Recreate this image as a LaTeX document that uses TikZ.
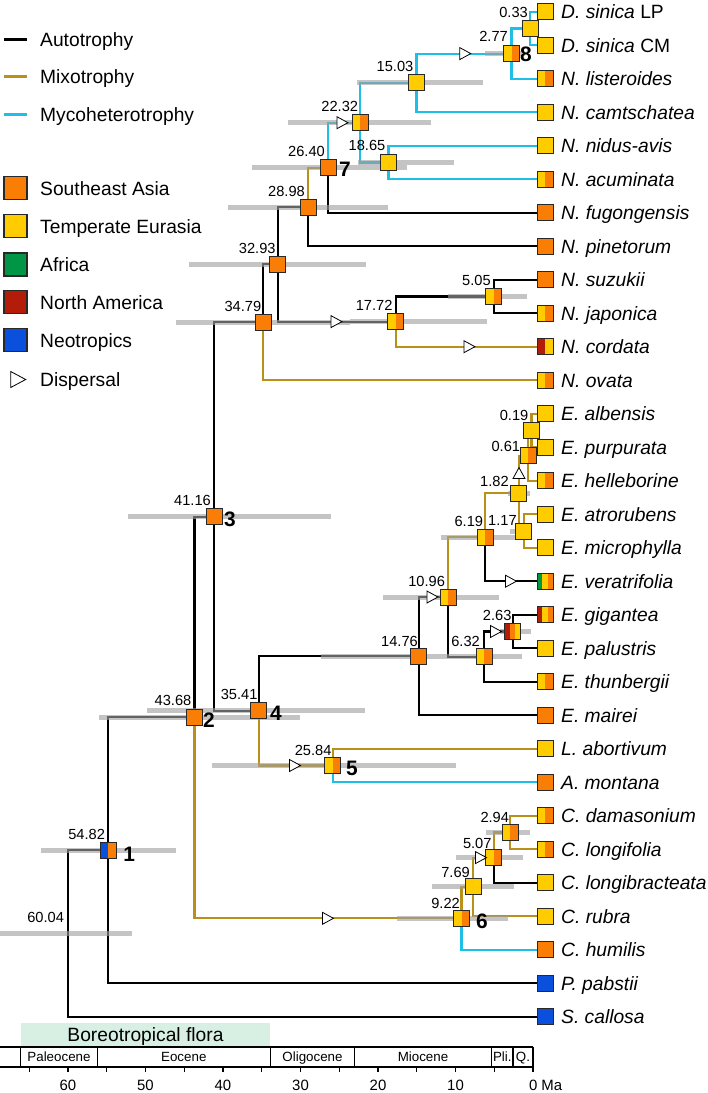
\documentclass[tikz,border=0pt]{standalone}
\usepackage{fontspec}
\setmainfont{Liberation Sans}
\usetikzlibrary{shapes.geometric,calc}
\definecolor{cOr}{RGB}{250,125,5}
\definecolor{cYe}{RGB}{255,204,0}
\definecolor{cGr}{RGB}{0,150,70}
\definecolor{cRe}{RGB}{180,28,10}
\definecolor{cBl}{RGB}{10,80,220}
\definecolor{cMix}{RGB}{185,145,25}
\definecolor{cMyc}{RGB}{30,190,230}
\definecolor{cHpd}{RGB}{160,160,160}
\definecolor{cBoreo}{RGB}{216,239,228}
\definecolor{cBorder}{RGB}{40,40,40}
\pgfdeclarelayer{bars}\pgfdeclarelayer{lines}
\pgfsetlayers{lines,bars,main}
\newcommand\fsTip{\fontsize{19.3}{23}\selectfont}
\newcommand\fsAge{\fontsize{14.7}{17}\selectfont}
\newcommand\fsNum{\fontsize{21}{24}\selectfont\bfseries}
\newcommand\fsEp{\fontsize{13.4}{16}\selectfont}
\newcommand\fsTick{\fontsize{15}{18}\selectfont}
\newcommand\agel[4]{\node[agelab] (age#1) at ($(#1.center)+(#3,#4)$) {#2};}
\newcommand\numl[4]{\node[numlab] (num#1) at ($(#1.center)+(#3,#4)$) {#2};}
\newcommand\hpdbar[3]{\draw[hpd] (#1,#3) -- (#2,#3);}
\begin{document}
\begin{tikzpicture}[x=1bp,y=-1bp,
  brA/.style={line width=2.1bp, black},
  brM/.style={line width=2.1bp, cMix},
  brY/.style={line width=2.1bp, cMyc},
  hpd/.style={line width=5bp, cHpd, opacity=0.62},
  sqbase/.style={draw=cBorder, line width=0.9bp, minimum size=16bp, inner sep=0pt, outer sep=0pt},
  sqA/.style={sqbase, fill=#1},
  sqB/.style 2 args={sqbase, path picture={
     \fill[#1] (path picture bounding box.south west) rectangle (path picture bounding box.north);
     \fill[#2] (path picture bounding box.south) rectangle (path picture bounding box.north east);}},
  sqC/.style n args={3}{sqbase, path picture={
     \fill[#1] (path picture bounding box.south west) rectangle ($(path picture bounding box.north west)!0.3333!(path picture bounding box.north east)$);
     \fill[#2] ($(path picture bounding box.south west)!0.3333!(path picture bounding box.south east)$) rectangle ($(path picture bounding box.north west)!0.6667!(path picture bounding box.north east)$);
     \fill[#3] ($(path picture bounding box.south west)!0.6667!(path picture bounding box.south east)$) rectangle (path picture bounding box.north east);}},
  disp/.style={isosceles triangle, isosceles triangle stretches, draw=black, fill=white, line width=0.8bp, minimum width=12bp, minimum height=11bp, inner sep=0pt},
  agelab/.style={anchor=base east, inner sep=0pt, font=\fsAge},
  numlab/.style={anchor=base west, inner sep=0pt, font=\fsNum},
  tiplab/.style={anchor=base west, inner sep=0pt, font=\fsTip\itshape},
  leglab/.style={anchor=base west, inner sep=0pt, font=\fsTip},
  axl/.style={line width=1.1bp, black}
]
\useasboundingbox (0,0) rectangle (708,1093);

% ---------- internal nodes ----------
\coordinate (root) at (67.7,933.5);
\node[sqB={cBl}{cOr}] (n1) at (108.1,850.3) {};
\node[sqA=cOr] (n2) at (194.5,717.4) {};
\node[sqA=cOr] (n3) at (214.0,516.6) {};
\node[sqA=cOr] (nJ) at (263.4,322.3) {};
\node[sqA=cOr] (nG) at (277.8,264.3) {};
\node[sqA=cOr] (nF) at (308.4,207.0) {};
\node[sqA=cOr] (n7) at (328.4,167.7) {};
\node[sqB={cYe}{cOr}] (nE) at (360.0,122.7) {};
\node[sqA=cYe] (nD) at (388.5,162.5) {};
\node[sqA=cYe] (nC) at (416.5,82.9) {};
\node[sqB={cYe}{cOr}] (n8) at (511.5,53.6) {};
\node[sqA=cYe] (nA) at (530.4,28.5) {};
\node[sqB={cYe}{cOr}] (nI) at (395.7,321.6) {};
\node[sqB={cYe}{cOr}] (nH) at (493.9,296.5) {};
\node[sqA=cOr] (n4) at (258.6,710.8) {};
\node[sqB={cYe}{cOr}] (n5) at (332.7,765.5) {};
\node[sqA=cOr] (nS) at (418.6,656.1) {};
\node[sqB={cYe}{cOr}] (nR) at (448.1,597.0) {};
\node[sqB={cYe}{cOr}] (nO) at (485.0,537.3) {};
\node[sqA=cYe] (nN) at (518.9,493.3) {};
\node[sqA=cYe] (nM) at (523.9,531.0) {};
\node[sqB={cYe}{cOr}] (nL) at (528.3,455.6) {};
\node[sqA=cYe] (nK) at (531.5,430.5) {};
\node[sqB={cYe}{cOr}] (nQ) at (484.0,656.6) {};
\node[sqC={cRe}{cOr}{cYe}] (nP) at (512.6,631.5) {};
\node[sqB={cYe}{cOr}] (n6) at (461.5,918.3) {};
\node[sqA=cYe] (nV) at (473.4,886.9) {};
\node[sqB={cYe}{cOr}] (nU) at (493.7,857.6) {};
\node[sqB={cYe}{cOr}] (nT) at (510.2,832.5) {};

% ---------- tips ----------
\node[sqA=cYe] (t0) at (545,11.7) {};
\node[sqA=cYe] (t1) at (545,45.2) {};
\node[sqB={cYe}{cOr}] (t2) at (545,78.7) {};
\node[sqA=cYe] (t3) at (545,112.2) {};
\node[sqA=cYe] (t4) at (545,145.7) {};
\node[sqB={cYe}{cOr}] (t5) at (545,179.2) {};
\node[sqA=cOr] (t6) at (545,212.7) {};
\node[sqA=cOr] (t7) at (545,246.2) {};
\node[sqA=cOr] (t8) at (545,279.7) {};
\node[sqB={cYe}{cOr}] (t9) at (545,313.2) {};
\node[sqB={cRe}{cYe}] (t10) at (545,346.7) {};
\node[sqB={cYe}{cOr}] (t11) at (545,380.2) {};
\node[sqA=cYe] (t12) at (545,413.7) {};
\node[sqA=cYe] (t13) at (545,447.2) {};
\node[sqB={cYe}{cOr}] (t14) at (545,480.7) {};
\node[sqA=cYe] (t15) at (545,514.2) {};
\node[sqA=cYe] (t16) at (545,547.7) {};
\node[sqC={cGr}{cYe}{cOr}] (t17) at (545,581.2) {};
\node[sqC={cRe}{cYe}{cOr}] (t18) at (545,614.7) {};
\node[sqA=cYe] (t19) at (545,648.2) {};
\node[sqB={cYe}{cOr}] (t20) at (545,681.7) {};
\node[sqA=cOr] (t21) at (545,715.2) {};
\node[sqA=cYe] (t22) at (545,748.7) {};
\node[sqA=cOr] (t23) at (545,782.2) {};
\node[sqB={cYe}{cOr}] (t24) at (545,815.7) {};
\node[sqB={cYe}{cOr}] (t25) at (545,849.2) {};
\node[sqA=cYe] (t26) at (545,882.7) {};
\node[sqA=cYe] (t27) at (545,916.2) {};
\node[sqA=cOr] (t28) at (545,949.7) {};
\node[sqA=cBl] (t29) at (545,983.2) {};
\node[sqA=cBl] (t30) at (545,1016.7) {};

% tip labels
\node[tiplab] (l0) at (561,18.7) {D. sinica \upshape LP};
\node[tiplab] (l1) at (561,52.2) {D. sinica \upshape CM};
\node[tiplab] (l2) at (561,85.7) {N. listeroides};
\node[tiplab] (l3) at (561,119.2) {N. camtschatea};
\node[tiplab] (l4) at (561,152.7) {N. nidus-avis};
\node[tiplab] (l5) at (561,186.2) {N. acuminata};
\node[tiplab] (l6) at (561,219.7) {N. fugongensis};
\node[tiplab] (l7) at (561,253.2) {N. pinetorum};
\node[tiplab] (l8) at (561,286.7) {N. suzukii};
\node[tiplab] (l9) at (561,320.2) {N. japonica};
\node[tiplab] (l10) at (561,353.7) {N. cordata};
\node[tiplab] (l11) at (561,387.2) {N. ovata};
\node[tiplab] (l12) at (561,420.7) {E. albensis};
\node[tiplab] (l13) at (561,454.2) {E. purpurata};
\node[tiplab] (l14) at (561,487.7) {E. helleborine};
\node[tiplab] (l15) at (561,521.2) {E. atrorubens};
\node[tiplab] (l16) at (561,554.7) {E. microphylla};
\node[tiplab] (l17) at (561,588.2) {E. veratrifolia};
\node[tiplab] (l18) at (561,621.7) {E. gigantea};
\node[tiplab] (l19) at (561,655.2) {E. palustris};
\node[tiplab] (l20) at (561,688.7) {E. thunbergii};
\node[tiplab] (l21) at (561,722.2) {E. mairei};
\node[tiplab] (l22) at (561,755.7) {L. abortivum};
\node[tiplab] (l23) at (561,789.2) {A. montana};
\node[tiplab] (l24) at (561,822.7) {C. damasonium};
\node[tiplab] (l25) at (561,856.2) {C. longifolia};
\node[tiplab] (l26) at (561,889.7) {C. longibracteata};
\node[tiplab] (l27) at (561,923.2) {C. rubra};
\node[tiplab] (l28) at (561,956.7) {C. humilis};
\node[tiplab] (l29) at (561,990.2) {P. pabstii};
\node[tiplab] (l30) at (561,1023.7) {S. callosa};

% ---------- dispersal marks ----------
\node[disp] (d1) at (463.3,53.6) {};
\node[disp] (d2) at (340.5,122.7) {};
\node[disp] (d3) at (334.5,321.6) {};
\node[disp] (d4) at (467.5,346.7) {};
\node[disp, shape border rotate=90] (d5) at (519.0,475) {};
\node[disp] (d6) at (509,581.2) {};
\node[disp] (d7) at (494,631.5) {};
\node[disp] (d8) at (430.5,597.0) {};
\node[disp] (d9) at (293,765.5) {};
\node[disp] (d10) at (326,918.3) {};
\node[disp] (d11) at (479,857.6) {};

% ---------- age labels ----------
\node[agelab] (ageroot) at ($(root)+(-3.5,-11)$) {60.04};
\agel{n1}{54.82}{-3}{-11}
\agel{n2}{43.68}{-3}{-12}
\agel{n3}{41.16}{-3}{-11}
\agel{nJ}{34.79}{-2}{-11}
\agel{nG}{32.93}{-2}{-11}
\agel{nF}{28.98}{-3.4}{-10.5}
\agel{n7}{26.40}{-3.4}{-11}
\agel{nE}{22.32}{-1.7}{-11.7}
\agel{nD}{18.65}{-3}{-12}
\agel{nC}{15.03}{-3}{-11}
\agel{n8}{2.77}{-3.5}{-12}
\agel{nA}{0.33}{-2.4}{-11}
\agel{nI}{17.72}{-3}{-11.5}
\agel{nH}{5.05}{-3}{-11.5}
\agel{n4}{35.41}{-1}{-11}
\agel{n5}{25.84}{-1}{-10}
\agel{nS}{14.76}{-0.6}{-10}
\agel{nR}{10.96}{-3}{-10.3}
\agel{nO}{6.19}{-1.7}{-10.6}
\agel{nN}{1.82}{-10}{-6.6}
\agel{nM}{1.17}{-7}{-6}
\agel{nL}{0.61}{-8}{-4}
\agel{nK}{0.19}{-3}{-10.5}
\agel{nQ}{6.32}{-4}{-10.6}
\agel{nP}{2.63}{-1}{-11.5}
\agel{n6}{9.22}{-1.5}{-10}
\agel{nV}{7.69}{-3.4}{-9.6}
\agel{nU}{5.07}{-2}{-9.3}
\agel{nT}{2.94}{-1}{-10}

% ---------- bold clade numbers ----------
\numl{n1}{1}{15}{11}
\numl{n2}{2}{8.5}{10.3}
\numl{n3}{3}{10}{10}
\numl{n4}{4}{11.4}{10}
\numl{n5}{5}{13.3}{9.5}
\numl{n6}{6}{14.5}{10}
\numl{n7}{7}{10.6}{8.3}
\numl{n8}{8}{8.5}{8}

% ---------- HPD bars (drawn over branches, under node squares) ----------
\begin{pgfonlayer}{bars}
\hpdbar{0}{132}{933.5}
\hpdbar{41}{176}{850.3}
\hpdbar{99}{300}{717.4}
\hpdbar{128}{331}{516.6}
\hpdbar{147}{365}{710.8}
\hpdbar{212}{456}{765.5}
\hpdbar{176}{350}{322.3}
\hpdbar{189}{366}{264.3}
\hpdbar{228}{388}{207.0}
\hpdbar{252}{407}{167.7}
\hpdbar{288}{431}{122.7}
\hpdbar{358}{454}{162.5}
\hpdbar{357}{483}{82.9}
\hpdbar{485}{525}{53.6}
\hpdbar{448}{527}{296.5}
\hpdbar{350}{487}{321.6}
\hpdbar{321}{436}{656.1}
\hpdbar{436}{522}{656.6}
\hpdbar{383}{499}{597.0}
\hpdbar{441}{516}{537.3}
\hpdbar{510}{530}{531.0}
\hpdbar{508}{530}{493.3}
\hpdbar{500}{531}{631.5}
\hpdbar{432}{514}{886.9}
\hpdbar{456}{523}{857.6}
\hpdbar{486}{530}{832.5}
\hpdbar{397}{508}{918.3}
\end{pgfonlayer}

% ---------- branches ----------
\begin{pgfonlayer}{lines}
\draw[brA] (root) |- (n1.center);
\draw[brA] (root) |- (t30.center);
\draw[brA] (n1.center) |- (n2.center);
\draw[brA] (n1.center) |- (t29.center);
\draw[brA] (n2.center) |- (n3.center);
\draw[brM] (n2.center) |- (n6.center);
\draw[brA] (n3.center) |- (nJ.center);
\draw[brA] (n3.center) |- (n4.center);
\draw[brA] (nJ.center) |- (nG.center);
\draw[brM] (nJ.center) |- (t11.center);
\draw[brA] (nG.center) |- (nF.center);
\draw[brA] (nG.center) |- (nI.center);
\draw[brM] (nF.center) |- (n7.center);
\draw[brA] (nF.center) |- (t7.center);
\draw[brY] (n7.center) |- (nE.center);
\draw[brA] (n7.center) |- (t6.center);
\draw[brY] (nE.center) |- (nC.center);
\draw[brY] (nE.center) |- (nD.center);
\draw[brY] (nC.center) |- (n8.center);
\draw[brY] (nC.center) |- (t3.center);
\draw[brY] (n8.center) |- (nA.center);
\draw[brY] (n8.center) |- (t2.center);
\draw[brY] (nA.center) |- (t0.center);
\draw[brY] (nA.center) |- (t1.center);
\draw[brY] (nD.center) |- (t4.center);
\draw[brY] (nD.center) |- (t5.center);
\draw[brA] (nI.center) |- (nH.center);
\draw[brM] (nI.center) |- (t10.center);
\draw[brA] (nH.center) |- (t8.center);
\draw[brA] (nH.center) |- (t9.center);
\draw[brA] (n4.center) |- (nS.center);
\draw[brM] (n4.center) |- (n5.center);
\draw[brM] (n5.center) |- (t22.center);
\draw[brY] (n5.center) |- (t23.center);
\draw[brA] (nS.center) |- (nR.center);
\draw[brA] (nS.center) |- (t21.center);
\draw[brM] (nR.center) |- (nO.center);
\draw[brA] (nR.center) |- (nQ.center);
\draw[brM] (nO.center) |- (nN.center);
\draw[brA] (nO.center) |- (t17.center);
\draw[brM] (nN.center) |- (nL.center);
\draw[brM] (nN.center) |- (nM.center);
\draw[brM] (nL.center) |- (nK.center);
\draw[brM] (nL.center) |- (t14.center);
\draw[brM] (nK.center) |- (t12.center);
\draw[brM] (nK.center) |- (t13.center);
\draw[brM] (nM.center) |- (t15.center);
\draw[brM] (nM.center) |- (t16.center);
\draw[brA] (nQ.center) |- (nP.center);
\draw[brA] (nQ.center) |- (t20.center);
\draw[brA] (nP.center) |- (t18.center);
\draw[brA] (nP.center) |- (t19.center);
\draw[brM] (n6.center) |- (nV.center);
\draw[brY] (n6.center) |- (t28.center);
\draw[brM] (nV.center) |- (nU.center);
\draw[brM] (nV.center) |- (t27.center);
\draw[brM] (nU.center) |- (nT.center);
\draw[brA] (nU.center) |- (t26.center);
\draw[brM] (nT.center) |- (t24.center);
\draw[brM] (nT.center) |- (t25.center);
\end{pgfonlayer}

% ---------- legend ----------
\draw[line width=3bp, black] (4,39) -- (27,39);
\draw[line width=3bp, cMix] (4,76.7) -- (27,76.7);
\draw[line width=3bp, cMyc] (4,114.3) -- (27,114.3);
\node[leglab] (legA) at (40,46) {Autotrophy};
\node[leglab] (legM) at (40,83.7) {Mixotrophy};
\node[leglab] (legY) at (40,121.3) {Mycoheterotrophy};
\node[sqA=cOr, minimum size=23bp, line width=1.1bp] (sq1) at (15.5,188) {};
\node[sqA=cYe, minimum size=23bp, line width=1.1bp] (sq2) at (15.5,226) {};
\node[sqA=cGr, minimum size=23bp, line width=1.1bp] (sq3) at (15.5,264.5) {};
\node[sqA=cRe, minimum size=23bp, line width=1.1bp] (sq4) at (15.5,302) {};
\node[sqA=cBl, minimum size=23bp, line width=1.1bp] (sq5) at (15.5,340) {};
\node[disp, minimum width=16bp, minimum height=15bp] (sq6) at (15.5,379.5) {};
\node[leglab] (leg1) at (40,195) {Southeast Asia};
\node[leglab] (leg2) at (40,233) {Temperate Eurasia};
\node[leglab] (leg3) at (40,271.5) {Africa};
\node[leglab] (leg4) at (40,309) {North America};
\node[leglab] (leg5) at (40,347) {Neotropics};
\node[leglab] (leg6) at (40,386.5) {Dispersal};

% ---------- time axis ----------
\fill[cBoreo] (20.7,1023) rectangle (270.3,1046);
\node[anchor=base, inner sep=0pt, font=\fsTip] (boreo) at (145.5,1041.5) {Boreotropical flora};
\draw[axl] (0,1047) -- (533,1047);
\draw[axl] (0,1067) -- (533,1067);
\foreach \bx in {20.7,97.3,270.3,354.8,491.7,513,533}
  \draw[axl] (\bx,1047) -- (\bx,1067);
\foreach \t in {0,5,...,65}
  \draw[axl] ({533-7.75*\t},1067) -- ({533-7.75*\t},1072);
\node[anchor=base, inner sep=0pt, font=\fsEp] (ep1) at (59,1061.7) {Paleocene};
\node[anchor=base, inner sep=0pt, font=\fsEp] (ep2) at (183.8,1061.7) {Eocene};
\node[anchor=base, inner sep=0pt, font=\fsEp] (ep3) at (312.5,1061.7) {Oligocene};
\node[anchor=base, inner sep=0pt, font=\fsEp] (ep4) at (423,1061.7) {Miocene};
\node[anchor=base, inner sep=0pt, font=\fsEp] (ep5) at (502.3,1061.7) {Pli.};
\node[anchor=base, inner sep=0pt, font=\fsEp] (ep6) at (523,1061.7) {Q.};
\foreach \t in {60,50,40,30,20,10}
  \node[anchor=base, inner sep=0pt, font=\fsTick] (tk\t) at ({533-7.75*\t},1090) {\t};
\node[anchor=base west, inner sep=0pt, font=\fsTick] (tk0) at (528.8,1090) {0 Ma};
\end{tikzpicture}
\end{document}
